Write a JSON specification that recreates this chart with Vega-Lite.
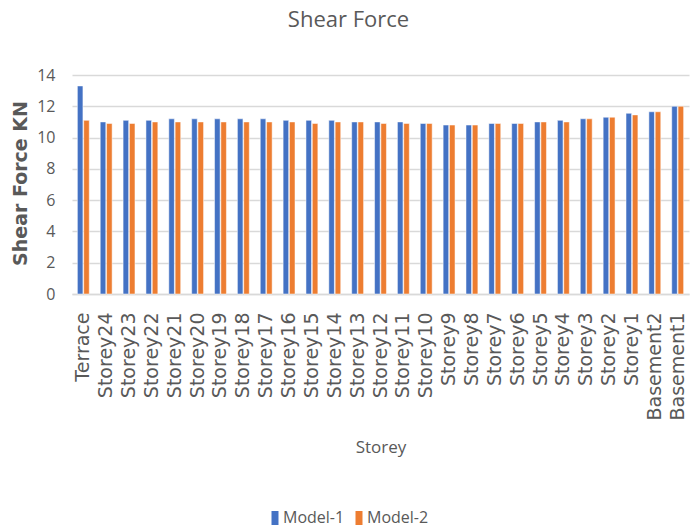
{
  "$schema": "https://vega.github.io/schema/vega-lite/v6.json",
  "width": 617,
  "height": 219,
  "autosize": {"type": "none"},
  "padding": {"left": 72, "top": 75, "right": 10, "bottom": 234},
  "background": "white",
  "title": {"text": "Shear Force", "fontSize": 22, "font": "Open Sans", "fontWeight": "normal", "color": "#595959", "anchor": "middle", "dx": -32, "offset": 35},
  "config": {"view": {"stroke": null}, "font": "Open Sans"},
  "data": {"values": [
    {"storey": "Terrace", "model": "Model-1", "v": 13.3}, {"storey": "Terrace", "model": "Model-2", "v": 11.1},
    {"storey": "Storey24", "model": "Model-1", "v": 11.0}, {"storey": "Storey24", "model": "Model-2", "v": 10.9},
    {"storey": "Storey23", "model": "Model-1", "v": 11.1}, {"storey": "Storey23", "model": "Model-2", "v": 10.9},
    {"storey": "Storey22", "model": "Model-1", "v": 11.1}, {"storey": "Storey22", "model": "Model-2", "v": 11.0},
    {"storey": "Storey21", "model": "Model-1", "v": 11.2}, {"storey": "Storey21", "model": "Model-2", "v": 11.0},
    {"storey": "Storey20", "model": "Model-1", "v": 11.2}, {"storey": "Storey20", "model": "Model-2", "v": 11.0},
    {"storey": "Storey19", "model": "Model-1", "v": 11.2}, {"storey": "Storey19", "model": "Model-2", "v": 11.0},
    {"storey": "Storey18", "model": "Model-1", "v": 11.2}, {"storey": "Storey18", "model": "Model-2", "v": 11.0},
    {"storey": "Storey17", "model": "Model-1", "v": 11.2}, {"storey": "Storey17", "model": "Model-2", "v": 11.0},
    {"storey": "Storey16", "model": "Model-1", "v": 11.1}, {"storey": "Storey16", "model": "Model-2", "v": 11.0},
    {"storey": "Storey15", "model": "Model-1", "v": 11.1}, {"storey": "Storey15", "model": "Model-2", "v": 10.9},
    {"storey": "Storey14", "model": "Model-1", "v": 11.1}, {"storey": "Storey14", "model": "Model-2", "v": 11.0},
    {"storey": "Storey13", "model": "Model-1", "v": 11.0}, {"storey": "Storey13", "model": "Model-2", "v": 11.0},
    {"storey": "Storey12", "model": "Model-1", "v": 11.0}, {"storey": "Storey12", "model": "Model-2", "v": 10.9},
    {"storey": "Storey11", "model": "Model-1", "v": 11.0}, {"storey": "Storey11", "model": "Model-2", "v": 10.9},
    {"storey": "Storey10", "model": "Model-1", "v": 10.9}, {"storey": "Storey10", "model": "Model-2", "v": 10.9},
    {"storey": "Storey9", "model": "Model-1", "v": 10.8}, {"storey": "Storey9", "model": "Model-2", "v": 10.8},
    {"storey": "Storey8", "model": "Model-1", "v": 10.8}, {"storey": "Storey8", "model": "Model-2", "v": 10.8},
    {"storey": "Storey7", "model": "Model-1", "v": 10.9}, {"storey": "Storey7", "model": "Model-2", "v": 10.9},
    {"storey": "Storey6", "model": "Model-1", "v": 10.9}, {"storey": "Storey6", "model": "Model-2", "v": 10.9},
    {"storey": "Storey5", "model": "Model-1", "v": 11.0}, {"storey": "Storey5", "model": "Model-2", "v": 11.0},
    {"storey": "Storey4", "model": "Model-1", "v": 11.1}, {"storey": "Storey4", "model": "Model-2", "v": 11.0},
    {"storey": "Storey3", "model": "Model-1", "v": 11.2}, {"storey": "Storey3", "model": "Model-2", "v": 11.2},
    {"storey": "Storey2", "model": "Model-1", "v": 11.3}, {"storey": "Storey2", "model": "Model-2", "v": 11.3},
    {"storey": "Storey1", "model": "Model-1", "v": 11.55}, {"storey": "Storey1", "model": "Model-2", "v": 11.45},
    {"storey": "Basement2", "model": "Model-1", "v": 11.65}, {"storey": "Basement2", "model": "Model-2", "v": 11.65},
    {"storey": "Basement1", "model": "Model-1", "v": 12.0}, {"storey": "Basement1", "model": "Model-2", "v": 12.0}
  ]},
  "mark": {"type": "bar", "stroke": "white", "strokeWidth": 0.5},
  "encoding": {
    "x": {"field": "storey", "type": "nominal", "sort": null,
      "scale": {"paddingInner": 0.48, "paddingOuter": 0.235},
      "axis": {"title": "Storey", "labelAngle": -90, "labelFontSize": 19, "labelFont": "DejaVu Sans", "labelColor": "#595959", "labelPadding": 18,
        "ticks": false, "domainColor": "#d9d9d9", "domainWidth": 1.5,
        "titleFontSize": 17, "titleFontWeight": "normal", "titleColor": "#595959", "titleY": 145}},
    "xOffset": {"field": "model", "type": "nominal", "scale": {"paddingInner": 0.12}},
    "y": {"field": "v", "type": "quantitative",
      "scale": {"domain": [0, 14]},
      "axis": {"title": "Shear Force KN", "values": [0, 2, 4, 6, 8, 10, 12, 14], "labelFontSize": 16, "labelColor": "#595959",
        "domain": false, "ticks": false, "gridColor": "#d9d9d9", "gridWidth": 1.5, "labelPadding": 17,
        "titleFontSize": 19, "titleFont": "DejaVu Sans", "titleFontWeight": "bold", "titleColor": "#595959", "titleX": -42, "titleY": 108}},
    "color": {"field": "model", "type": "nominal",
      "scale": {"domain": ["Model-1", "Model-2"], "range": ["#4472C4", "#ED7D31"]},
      "legend": {"title": null, "orient": "none", "direction": "horizontal", "legendX": 195, "legendY": 435,
        "symbolType": "M-0.5,-1H0.5V1H-0.5Z", "symbolSize": 196, "labelFontSize": 16, "labelColor": "#595959", "labelOffset": 0, "columnPadding": 6, "symbolStrokeWidth": 0}}
  }
}
